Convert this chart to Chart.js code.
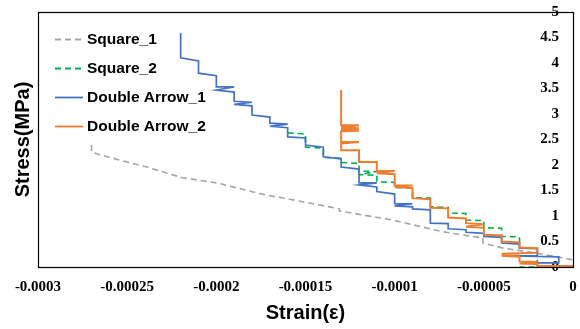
<!DOCTYPE html>
<html>
<head>
<meta charset="utf-8">
<script src="https://cdn.jsdelivr.net/npm/chart.js@4.4.1/dist/chart.umd.min.js"></script>
<style>
  html, body { margin: 0; padding: 0; background: #fff; }
  #wrap { position: relative; width: 580px; height: 329px; }
</style>
</head>
<body>
<div id="wrap"><canvas id="c" width="580" height="329"></canvas></div>
<script>
// ---------- data ----------
const seriesNames = ['Square_1', 'Square_2', 'Double Arrow_1', 'Double Arrow_2'];

const xTickValues = [-0.0003, -0.00025, -0.0002, -0.00015, -0.0001, -0.00005, 0];
const xTickLabels = ['-0.0003', '-0.00025', '-0.0002', '-0.00015', '-0.0001', '-0.00005', '0'];
const yTickValues = [0, 0.5, 1, 1.5, 2, 2.5, 3, 3.5, 4, 4.5, 5];
const yTickLabels = ['0', '0.5', '1', '1.5', '2', '2.5', '3', '3.5', '4', '4.5', '5'];

// Square_1
const sq1Strain = [-0.00027, -0.00027, -0.000261, -0.000239, -0.000219, -0.0002, -0.000172, -0.000159,
  -0.000131, -0.000131, -0.000101, -0.000073, -0.0000505, -0.0000505, -0.000039, -0.00002, -0.000009, 0];
const sq1Stress = [2.39, 2.25, 2.16, 1.96, 1.75, 1.65, 1.41, 1.33,
  1.14, 1.10, 0.92, 0.69, 0.57, 0.47, 0.37, 0.27, 0.20, 0.14];

// Square_2
const sq2Strain = [-0.00016, -0.00015, -0.00015, -0.00014, -0.00014, -0.00013, -0.00013, -0.00012,
  -0.00012, -0.00011, -0.00012, -0.00011, -0.00011, -0.0001, -0.0001, -0.00009, -0.00009, -0.00008,
  -0.00008, -0.00007, -0.00007, -0.00006, -0.00006, -0.00005, -0.00005, -0.00004, -0.00004, -0.00003,
  -0.00003, -0.00002, -0.00002, -0.00003];
const sq2Stress = [2.63, 2.61, 2.35, 2.33, 2.15, 2.13, 2.05, 2.03,
  1.88, 1.87, 1.81, 1.80, 1.67, 1.66, 1.56, 1.55, 1.36, 1.35,
  1.18, 1.17, 1.06, 1.05, 0.92, 0.91, 0.77, 0.76, 0.60, 0.59,
  0.38, 0.37, 0.00, 0.00];

// Double Arrow_1
const da1Strain = [-0.00022, -0.00022, -0.00021,
  -0.00021, -0.0002,
  -0.0002, -0.00019, -0.0002, -0.00019,
  -0.00019, -0.00018, -0.00019, -0.00018,
  -0.00018, -0.00017,
  -0.00017, -0.00016, -0.00017, -0.00016,
  -0.00016, -0.00015,
  -0.00015, -0.00014,
  -0.00014, -0.00013,
  -0.00013, -0.00012,
  -0.00012, -0.00011, -0.00012, -0.00011,
  -0.00011, -0.0001,
  -0.0001, -0.00009, -0.0001, -0.00009,
  -0.00009, -0.00008,
  -0.00008, -0.00007,
  -0.00007, -0.00006,
  -0.00006, -0.00005,
  -0.00005, -0.00004,
  -0.00004, -0.00003,
  -0.00003, -0.00002, -0.00002, -0.000033, -0.000008, -0.000008, -0.00002];
const da1Stress = [4.59, 4.10, 4.04,
  3.80, 3.75,
  3.53, 3.53, 3.47, 3.43,
  3.25, 3.23, 3.19, 3.16,
  2.98, 2.94,
  2.82, 2.80, 2.76, 2.73,
  2.55, 2.53,
  2.39, 2.35,
  2.16, 2.12,
  1.96, 1.92,
  1.65, 1.65, 1.61, 1.57,
  1.48, 1.43,
  1.24, 1.24, 1.20, 1.18,
  1.14, 1.12,
  0.86, 0.85,
  0.75, 0.73,
  0.68, 0.66,
  0.60, 0.58,
  0.47, 0.45,
  0.37, 0.36, 0.22, 0.22, 0.20, 0.08, 0.08];

// Double Arrow_2
const da2Strain = [-0.00013, -0.00013, -0.00012, -0.00013, -0.00012, -0.00013, -0.00012, -0.00013,
  -0.00013, -0.00012, -0.00013, -0.00013, -0.00012,
  -0.00012, -0.00011,
  -0.00011, -0.0001, -0.00011, -0.0001,
  -0.0001, -0.00009, -0.0001, -0.00009,
  -0.00009, -0.00008,
  -0.00008, -0.00007,
  -0.00007, -0.00006,
  -0.00006, -0.00005, -0.00006, -0.00005,
  -0.00005, -0.00004,
  -0.00004, -0.00003,
  -0.00003, -0.00002, -0.00002, -0.00004, -0.00003, -0.00004, -0.00003,
  -0.00003, -0.00002, -0.00003, -0.00002, -0.00002, 0];
const da2Stress = [3.47, 2.78, 2.78, 2.74, 2.72, 2.70, 2.67, 2.66,
  2.45, 2.45, 2.42, 2.29, 2.29,
  2.06, 2.06,
  1.88, 1.88, 1.84, 1.82,
  1.60, 1.60, 1.57, 1.55,
  1.35, 1.33,
  1.16, 1.15,
  0.97, 0.95,
  0.86, 0.84, 0.79, 0.77,
  0.63, 0.62,
  0.50, 0.48,
  0.38, 0.37, 0.28, 0.26, 0.25, 0.22, 0.20,
  0.11, 0.10, 0.07, 0.06, 0.02, 0.02];

// ---------- build ----------
function pts(xs, ys) { return xs.map((x, i) => ({ x: x, y: ys[i] })); }

const styles = [
  { color: '#A5A5A5', dash: [6, 4], width: 1.6, order: 4 },
  { color: '#00B050', dash: [6, 4], width: 1.6, order: 3 },
  { color: '#4472C4', dash: [], width: 1.7, order: 2 },
  { color: '#ED7D31', dash: [], width: 2, order: 1 }
];
const seriesData = [pts(sq1Strain, sq1Stress), pts(sq2Strain, sq2Stress), pts(da1Strain, da1Stress), pts(da2Strain, da2Stress)];

const datasets = seriesNames.map((name, i) => ({
  label: name,
  data: seriesData[i],
  showLine: true,
  borderColor: styles[i].color,
  backgroundColor: styles[i].color,
  borderDash: styles[i].dash,
  borderWidth: styles[i].width,
  pointRadius: 0,
  pointHoverRadius: 0,
  tension: 0,
  fill: false,
  order: styles[i].order,
  xAxisID: 'x',
  yAxisID: 'y'
}));

const framePlugin = {
  id: 'frame',
  afterDatasetsDraw(chart) {
    const { ctx, chartArea: a } = chart;
    ctx.save();
    ctx.strokeStyle = '#000';
    ctx.lineWidth = 1.2;
    ctx.setLineDash([]);
    ctx.strokeRect(Math.round(a.left) + 0.5, Math.round(a.top) + 0.5, Math.round(a.right - a.left), Math.round(a.bottom - a.top));
    ctx.restore();
  }
};

const legendPlugin = {
  id: 'insideLegend',
  afterDraw(chart) {
    const ctx = chart.ctx;
    const rows = [39, 68, 97, 126];
    ctx.save();
    chart.data.datasets.forEach((ds, i) => {
      const y = rows[i];
      ctx.beginPath();
      ctx.strokeStyle = ds.borderColor;
      ctx.lineWidth = 1.8;
      ctx.setLineDash(ds.borderDash || []);
      ctx.moveTo(55, y + 0.5);
      ctx.lineTo(83, y + 0.5);
      ctx.stroke();
      ctx.setLineDash([]);
      ctx.fillStyle = '#000';
      ctx.font = 'bold 15.5px "Liberation Sans", Arial, sans-serif';
      ctx.textBaseline = 'middle';
      ctx.textAlign = 'left';
      ctx.fillText(ds.label, 87, y + 1);
    });
    ctx.restore();
  }
};

const tickFont = { family: '"Liberation Serif", "Times New Roman", serif', size: 15, weight: 'bold' };
const titleFont = { family: '"Liberation Sans", Arial, sans-serif', size: 20, weight: 'bold' };

new Chart(document.getElementById('c'), {
  type: 'scatter',
  data: { datasets: datasets },
  options: {
    responsive: false,
    animation: false,
    devicePixelRatio: 1,
    layout: { padding: { top: 12, right: 7, left: 0, bottom: 0 } },
    plugins: {
      legend: { display: false },
      tooltip: { enabled: false }
    },
    scales: {
      x: {
        type: 'linear',
        position: 'bottom',
        min: -0.0003,
        max: 0,
        grid: { display: false, drawTicks: false },
        border: { display: false },
        afterBuildTicks(scale) { scale.ticks = xTickValues.map(v => ({ value: v })); },
        afterFit(scale) { scale.height = 62; scale.paddingLeft = 0; scale.paddingRight = 0; },
        ticks: {
          autoSkip: false,
          maxRotation: 0,
          padding: 11,
          color: '#000',
          font: tickFont,
          callback: (v, i) => xTickLabels[i]
        },
        title: {
          display: true,
          text: 'Strain(ε)',
          color: '#000',
          font: titleFont,
          padding: { top: 0, bottom: 4 }
        }
      },
      y: {
        type: 'linear',
        position: 'right',
        min: 0,
        max: 5,
        grid: { display: false, drawTicks: false },
        border: { display: false },
        afterBuildTicks(scale) { scale.ticks = yTickValues.map(v => ({ value: v })); },
        afterFit(scale) { scale.width = 0; scale.paddingTop = 0; scale.paddingBottom = 0; },
        ticks: {
          mirror: true,
          padding: -14,
          color: '#000',
          font: tickFont,
          callback: (v, i) => yTickLabels[i]
        }
      },
      yTitle: {
        type: 'linear',
        position: 'left',
        grid: { display: false, drawTicks: false },
        border: { display: false },
        ticks: { display: false },
        afterFit(scale) { scale.width = 38; scale.paddingTop = 0; scale.paddingBottom = 0; },
        title: {
          display: true,
          text: 'Stress(MPa)',
          color: '#000',
          font: titleFont,
          padding: { top: 11, bottom: 0 }
        }
      }
    }
  },
  plugins: [framePlugin, legendPlugin]
});
</script>
</body>
</html>
